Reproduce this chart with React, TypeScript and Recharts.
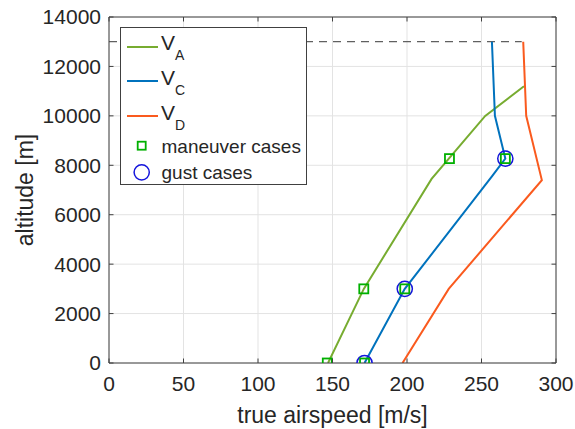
import React from 'react';
import {
  ComposedChart,
  Line,
  Scatter,
  XAxis,
  YAxis,
  CartesianGrid,
  ReferenceLine,
  Legend,
  Label,
} from 'recharts';

// axis ticks
const xTicks = [0, 50, 100, 150, 200, 250, 300];
const yTicks = [0, 2000, 4000, 6000, 8000, 10000, 12000, 14000];

// V_A (maneuver speed)
const vaSpeed = [147, 171, 216.5, 252.5, 278.5];
const vaAltitude = [0, 3000, 7450, 10000, 11200];

// V_C (cruise speed)
const vcSpeed = [171.5, 198.5, 257, 266, 259, 257];
const vcAltitude = [0, 3000, 7550, 8270, 10000, 13000];

// V_D (dive speed)
const vdSpeed = [197, 228, 290.5, 280, 278];
const vdAltitude = [0, 3000, 7400, 10000, 13000];

// ceiling
const ceilingSpeed = [0, 277];
const ceilingAltitude = [13000, 13000];

// load cases
const maneuverSpeed = [146.5, 171, 228.5, 171.5, 198.5, 266];
const maneuverAltitude = [0, 3000, 8270, 0, 3000, 8270];
const gustSpeed = [171.5, 198.5, 266];
const gustAltitude = [0, 3000, 8270];

const toPoints = (speed: number[], alt: number[]) =>
  speed.map((x, i) => ({ x, y: alt[i] }));

const vaData = toPoints(vaSpeed, vaAltitude);
const vcData = toPoints(vcSpeed, vcAltitude);
const vdData = toPoints(vdSpeed, vdAltitude);
const ceilingData = toPoints(ceilingSpeed, ceilingAltitude);
const maneuverData = toPoints(maneuverSpeed, maneuverAltitude);
const gustData = toPoints(gustSpeed, gustAltitude);

const COLOR_VA = '#77AC30';
const COLOR_VC = '#0072BD';
const COLOR_VD = '#FA5A1E';
const COLOR_SQUARE = '#00B000';
const COLOR_CIRCLE = '#1414DC';
const AXIS = '#404040';
const TEXT = '#262626';
const FONT = '"Liberation Sans", Arial, Helvetica, sans-serif';

const PLOT_TOP = 17;
const PLOT_RIGHT = 556;

const XTick = (props: any) => {
  const { x, y, payload } = props;
  const axisY = y - 13;
  return (
    <g>
      <line x1={x} x2={x} y1={axisY} y2={axisY - 4.5} stroke={AXIS} />
      <line x1={x} x2={x} y1={PLOT_TOP} y2={PLOT_TOP + 4.5} stroke={AXIS} />
      <text x={x} y={y} dy="0.71em" textAnchor="middle" fill={TEXT} fontSize={21} fontFamily={FONT}>
        {payload.value}
      </text>
    </g>
  );
};

const YTick = (props: any) => {
  const { x, y, payload } = props;
  const axisX = x + 8;
  return (
    <g>
      <line x1={axisX} x2={axisX + 4.5} y1={y} y2={y} stroke={AXIS} />
      <line x1={PLOT_RIGHT} x2={PLOT_RIGHT - 4.5} y1={y} y2={y} stroke={AXIS} />
      <text x={x} y={y} dy="0.355em" textAnchor="end" fill={TEXT} fontSize={21} fontFamily={FONT}>
        {payload.value}
      </text>
    </g>
  );
};

const SquareMarker = (props: any) => {
  const { cx, cy } = props;
  return (
    <rect x={cx - 4.5} y={cy - 4.5} width={9} height={9} fill="none" stroke={COLOR_SQUARE} strokeWidth={1.8} />
  );
};

const CircleMarker = (props: any) => {
  const { cx, cy } = props;
  return <circle cx={cx} cy={cy} r={7.6} fill="none" stroke={COLOR_CIRCLE} strokeWidth={1.5} />;
};

const vRows = [
  { sub: 'A', color: COLOR_VA, lineY: 20, textY: 23 },
  { sub: 'C', color: COLOR_VC, lineY: 54, textY: 58 },
  { sub: 'D', color: COLOR_VD, lineY: 89, textY: 93 },
];

const renderLegend = () => (
  <svg width={188} height={159} style={{ display: 'block' }}>
    <rect x={0.5} y={0.5} width={186} height={157} fill="#fff" stroke={AXIS} strokeWidth={1} />
    {vRows.map((r) => (
      <g key={r.sub}>
        <line x1={7} x2={38} y1={r.lineY} y2={r.lineY} stroke={r.color} strokeWidth={2} />
        <text x={41} y={r.textY} fill={TEXT} fontFamily={FONT} fontSize={21}>
          V
          <tspan dy={10} fontSize={14}>
            {r.sub}
          </tspan>
        </text>
      </g>
    ))}
    <rect x={17.7} y={114.7} width={8} height={8} fill="none" stroke={COLOR_SQUARE} strokeWidth={1.8} />
    <text x={41.5} y={126} fill={TEXT} fontFamily={FONT} fontSize={19}>
      maneuver cases
    </text>
    <circle cx={21.7} cy={145.3} r={7.6} fill="none" stroke={COLOR_CIRCLE} strokeWidth={1.5} />
    <text x={41.5} y={152} fill={TEXT} fontFamily={FONT} fontSize={19}>
      gust cases
    </text>
  </svg>
);

export default function App() {
  return (
    <div style={{ position: 'absolute', left: 0, top: 0, background: '#fff' }}>
      <ComposedChart
        width={575}
        height={429}
        margin={{ top: 17, right: 19, bottom: 0, left: 0 }}
        style={{ fontFamily: FONT }}
      >
        <CartesianGrid stroke="#E3E3E3" strokeWidth={1} />
        <XAxis
          dataKey="x"
          type="number"
          domain={[0, 300]}
          ticks={xTicks}
          allowDataOverflow
          height={66}
          tickSize={0}
          tickMargin={13}
          tickLine={false}
          tick={XTick}
          axisLine={{ stroke: AXIS }}
        >
          <Label
            value="true airspeed [m/s]"
            position="insideBottom"
            offset={6}
            style={{ fontSize: 23, fill: TEXT, fontFamily: FONT }}
          />
        </XAxis>
        <YAxis
          dataKey="y"
          type="number"
          domain={[0, 14000]}
          ticks={yTicks}
          allowDataOverflow
          width={109}
          tickSize={0}
          tickMargin={8}
          tickLine={false}
          tick={YTick}
          axisLine={{ stroke: AXIS }}
        >
          <Label
            value="altitude [m]"
            angle={-90}
            position="insideLeft"
            offset={25}
            style={{ fontSize: 23, fill: TEXT, fontFamily: FONT, textAnchor: 'middle' }}
          />
        </YAxis>
        <ReferenceLine y={14000} stroke={AXIS} />
        <ReferenceLine x={300} stroke={AXIS} />
        <Line data={ceilingData} dataKey="y" stroke="#606060" strokeWidth={1.3} strokeDasharray="8 6" dot={false} isAnimationActive={false} />
        <Line data={vaData} dataKey="y" stroke={COLOR_VA} strokeWidth={2} dot={false} isAnimationActive={false} />
        <Line data={vcData} dataKey="y" stroke={COLOR_VC} strokeWidth={2} dot={false} isAnimationActive={false} />
        <Line data={vdData} dataKey="y" stroke={COLOR_VD} strokeWidth={2} dot={false} isAnimationActive={false} />
        <Scatter data={gustData} dataKey="y" shape={CircleMarker} isAnimationActive={false} />
        <Scatter data={maneuverData} dataKey="y" shape={SquareMarker} isAnimationActive={false} />
        <Legend
          content={renderLegend}
          layout="vertical"
          align="center"
          verticalAlign="middle"
          wrapperStyle={{ left: 120, top: 27, width: 188, height: 159 }}
        />
      </ComposedChart>
    </div>
  );
}
